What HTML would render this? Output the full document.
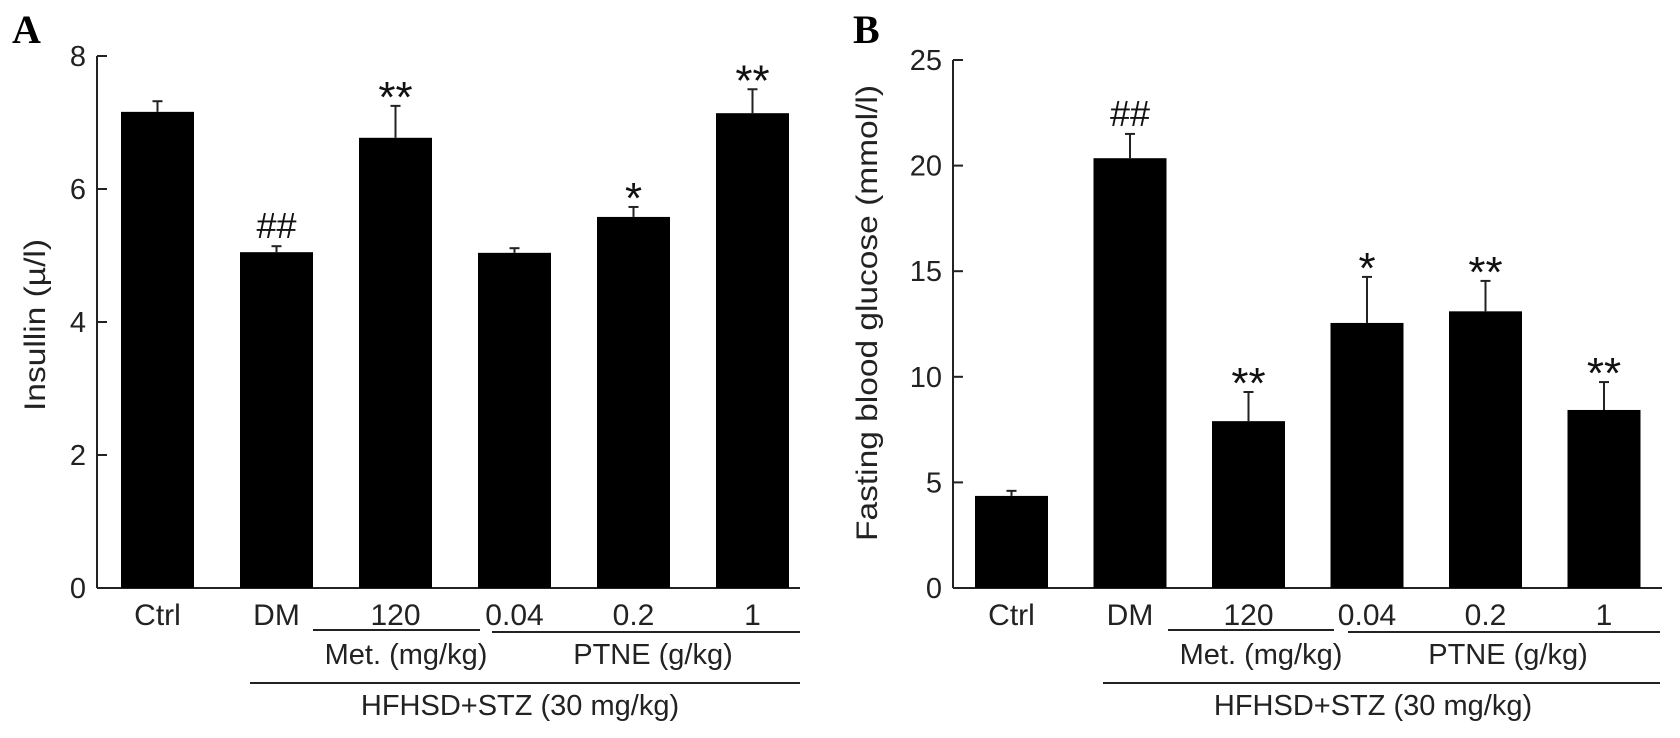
<!DOCTYPE html>
<html><head><meta charset="utf-8"><style>
html,body{margin:0;padding:0;background:#fff;}
svg{display:block;font-family:"Liberation Sans",Arial,sans-serif;}
</style></head><body>
<svg id="fig" width="1680" height="738" viewBox="0 0 1680 738"></svg>
<script>
const categories = ["Ctrl","DM","120","0.04","0.2","1"];
const insulinValues = [7.16, 5.05, 6.77, 5.04, 5.58, 7.14];
const insulinErrors = [7.32, 5.14, 7.25, 5.11, 5.73, 7.50];
const insulinMarks = ["", "##", "**", "", "*", "**"];
const insulinTicks = [0, 2, 4, 6, 8];
const glucoseValues = [4.36, 20.35, 7.9, 12.55, 13.1, 8.43];
const glucoseErrors = [4.6, 21.5, 9.28, 14.73, 14.54, 9.75];
const glucoseMarks = ["", "##", "**", "*", "**", "**"];
const glucoseTicks = [0, 5, 10, 15, 20, 25];

const NS = "http://www.w3.org/2000/svg";
const svg = document.getElementById("fig");
function mk(tag, attrs, parent){
  const e = document.createElementNS(NS, tag);
  for (const k in attrs) e.setAttribute(k, attrs[k]);
  (parent || svg).appendChild(e);
  return e;
}
function txt(s, attrs, parent){ const t = mk("text", attrs, parent); t.textContent = s; return t; }

function panel(cfg){
  const g = mk("g", {});
  
  
  const y0 = 588, yTop = cfg.yTop, max = cfg.ticks[cfg.ticks.length-1];
  const yScale = v => y0 - (v / max) * (y0 - yTop);
  const xScale = i => cfg.firstBar + i * cfg.step;
  const bw = 73;
  const L = txt(cfg.letter, {x: cfg.letterX, y: 43, "font-family": "Liberation Serif, serif", "font-weight": "bold", "font-size": 40}, g);
  
  
  const ax = mk("line", {x1: cfg.axisX, y1: yTop, x2: cfg.axisX, y2: y0, stroke: "#222", "stroke-width": 2}, g);
  
  
  const bx = mk("line", {x1: cfg.axisX, y1: y0, x2: cfg.axisEnd, y2: y0, stroke: "#222", "stroke-width": 2}, g);
  
  
  cfg.ticks.forEach(t => {
    const y = yScale(t);
    const tk = mk("line", {x1: cfg.axisX, y1: y, x2: cfg.axisX + 10, y2: y, stroke: "#222", "stroke-width": 2}, g);
    
    
    const tl = txt(String(t), {x: cfg.axisX - 11, y: y + 10, "text-anchor": "end", "font-size": 29, fill: "#222"}, g);
    
    
  });
  const yt = txt(cfg.yTitle, {x: 0, y: 0, "text-anchor": "middle", "font-size": 30, fill: "#222", textLength: cfg.titleLen, lengthAdjust: "spacingAndGlyphs", transform: `translate(${cfg.titleX},${cfg.titleY}) rotate(-90)`}, g);
  
  
  cfg.values.forEach((v, i) => {
    const x = xScale(i), cx = x + bw/2;
    const ey = yScale(cfg.errors[i]);
    const el = mk("line", {x1: cx, y1: ey, x2: cx, y2: yScale(v), stroke: "#222", "stroke-width": 2}, g);
    
    
    const ec = mk("line", {x1: cx - 5, y1: ey, x2: cx + 5, y2: ey, stroke: "#222", "stroke-width": 2}, g);
    
    
    const r = mk("rect", {x: x, y: yScale(v), width: bw, height: y0 - yScale(v), fill: "#000"}, g);
    
    
    const m = cfg.marks[i];
    if (m) {
      const isHash = m[0] === "#";
      const a = txt(m, {x: cx, y: ey - (isHash ? 8 : -6), "text-anchor": "middle", "font-size": isHash ? 36 : 44, fill: "#111"}, g);
      
      
    }
    const cl = txt(categories[i], {x: cx, y: 625, "text-anchor": "middle", "font-size": 30, fill: "#222"}, g);
    
    
  });
  const grp = [
    [cfg.metLine, 630, "Met. (mg/kg)", cfg.metText, 664, 'met-group'],
    [cfg.ptneLine, 632, "PTNE (g/kg)", cfg.ptneText, 664, 'ptne-group'],
    [cfg.hfLine, 683, "HFHSD+STZ (30 mg/kg)", cfg.hfText, 715, 'hfhsd-group']
  ];
  grp.forEach(([ln, ly, s, tx, ty, nm]) => {
    const l = mk("line", {x1: ln[0], y1: ly, x2: ln[1], y2: ly, stroke: "#222", "stroke-width": 2}, g);
    
    
    const t = txt(s, {x: tx, y: ty, "text-anchor": "middle", "font-size": 29, fill: "#222"}, g);
    
    
  });
}

panel({name: "insulin-chart", letter: "A", letterX: 12, axisX: 97, axisEnd: 800, yTop: 56,
  ticks: insulinTicks, values: insulinValues, errors: insulinErrors, marks: insulinMarks,
  firstBar: 121, step: 119, yTitle: "Insullin (\u00b5/l)", titleX: 45, titleY: 325, titleLen: 172,
  metLine: [313, 480], metText: 406, ptneLine: [492, 800], ptneText: 653, hfLine: [250, 800], hfText: 520});
panel({name: "glucose-chart", letter: "B", letterX: 853, axisX: 953, axisEnd: 1662, yTop: 60,
  ticks: glucoseTicks, values: glucoseValues, errors: glucoseErrors, marks: glucoseMarks,
  firstBar: 975, step: 118.5, yTitle: "Fasting blood glucose (mmol/l)", titleX: 877, titleY: 313, titleLen: 456,
  metLine: [1168, 1334], metText: 1261, ptneLine: [1348, 1660], ptneText: 1508, hfLine: [1103, 1660], hfText: 1373});
</script>
</body></html>
